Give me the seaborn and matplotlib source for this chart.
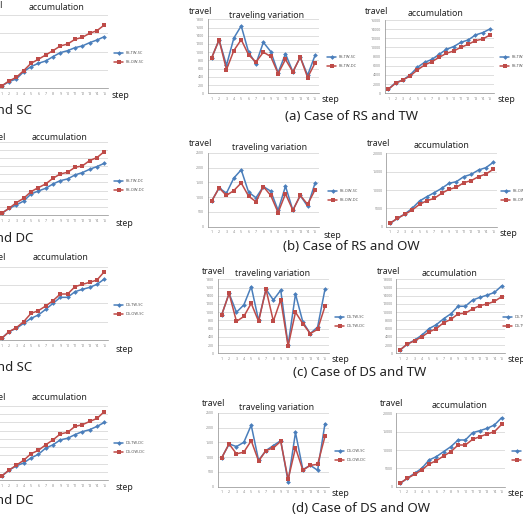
import numpy as np
import matplotlib
matplotlib.use("Agg")
import matplotlib.pyplot as plt
import seaborn as sns

W, H = 523, 520
BLUE = "#4A7EBB"
RED = "#BE4B48"

steps = list(range(1, 16))

# left column (cropped accumulation charts)
rs_tw_sc_acc = [640, 1820, 2550, 4550, 5910, 6820, 7450, 8640, 9730, 10270, 11090, 11550, 12450, 13180, 14090]
rs_ow_sc_acc = [640, 2000, 3000, 4820, 6820, 7910, 9090, 10270, 11550, 12090, 13360, 13910, 15000, 15730, 17270]
rs_tw_dc_acc = [410, 1640, 2460, 3440, 5160, 5900, 6560, 7620, 8440, 8850, 9840, 10410, 11230, 11890, 12700]
rs_ow_dc_acc = [410, 1640, 3030, 4100, 5740, 6720, 7620, 9020, 10080, 10490, 11720, 12050, 13360, 14100, 15570]
ds_tw_sc_acc = [450, 2270, 3180, 4550, 5910, 6820, 8360, 10000, 11640, 11640, 13180, 13820, 14360, 15180, 16640]
ds_ow_sc_acc = [450, 2270, 3360, 5000, 7270, 8000, 9270, 10730, 12550, 12550, 14550, 15180, 15730, 16360, 18640]
ds_tw_dc_acc = [960, 2400, 3440, 4160, 5360, 6240, 7760, 8560, 9760, 10160, 11040, 11760, 12240, 13040, 14000]
ds_ow_dc_acc = [960, 2400, 3600, 4800, 6400, 7200, 8560, 9760, 11200, 11600, 13040, 13440, 14240, 14960, 16640]

# (a) RS and TW
rs_tw_sc_var = [864, 1300, 680, 1344, 1640, 1000, 720, 1240, 1016, 500, 960, 520, 880, 440, 920]
rs_tw_dc_var = [864, 1300, 576, 1040, 1304, 936, 760, 1000, 896, 480, 824, 520, 880, 384, 736]
rs_tw_sc_sum = [870, 2330, 2900, 4000, 5670, 6760, 7400, 8500, 9600, 10200, 11130, 11640, 12730, 13240, 14040]
rs_tw_dc_sum = [870, 2180, 2900, 3780, 5090, 6180, 6900, 7850, 8730, 9240, 10040, 10690, 11490, 11850, 12730]
# (b) RS and OW
rs_ow_sc_var = [867, 1311, 1133, 1644, 1922, 1167, 978, 1356, 1200, 556, 1367, 556, 1056, 689, 1467]
rs_ow_dc_var = [867, 1311, 1056, 1222, 1478, 1033, 844, 1356, 1056, 478, 1111, 556, 1056, 756, 1244]
rs_ow_sc_sum = [910, 2270, 3450, 5000, 7000, 8180, 9270, 10450, 11820, 12270, 13640, 14270, 15450, 16090, 17550]
rs_ow_dc_sum = [910, 2270, 3360, 4550, 6090, 7090, 7730, 9090, 10180, 10730, 12000, 12550, 13640, 14360, 15640]
# (c) DS and TW
ds_tw_sc_var = [936, 1456, 1000, 1176, 1624, 800, 1560, 1296, 1536, 200, 1440, 760, 480, 640, 1560]
ds_tw_dc_var = [936, 1456, 776, 896, 1216, 776, 1560, 784, 1304, 176, 1000, 720, 480, 584, 1144]
ds_tw_sc_sum = [800, 2240, 3200, 4400, 6000, 6960, 8400, 9600, 11440, 11440, 12960, 13600, 14160, 14800, 16400]
ds_tw_dc_sum = [800, 2240, 3040, 4000, 5200, 6000, 7440, 8240, 9600, 9760, 10800, 11600, 12000, 12640, 13760]
# (d) DS and OW
ds_ow_sc_var = [978, 1444, 1356, 1500, 2078, 889, 1222, 1389, 1556, 167, 1833, 578, 722, 556, 2133]
ds_ow_dc_var = [978, 1444, 1111, 1167, 1556, 867, 1222, 1311, 1533, 244, 1311, 556, 722, 756, 1700]
ds_ow_sc_sum = [910, 2270, 3640, 5000, 7270, 8180, 9550, 10910, 12730, 12730, 14730, 15270, 15910, 16820, 18820]
ds_ow_dc_sum = [910, 2270, 3360, 4550, 6180, 7090, 8360, 9550, 11360, 11360, 12910, 13640, 14360, 15000, 17000]

sns.set_style("white")
plt.rcParams["font.family"] = ["Noto Sans", "DejaVu Sans"]

fig = plt.figure(figsize=(W / 100, H / 100), dpi=100)


def ftxt(x, y, s, size, ha="left"):
    fig.text(x / W, 1 - y / H, s, ha=ha, va="center", fontsize=size, color="#222222")


def panel(p1, p15, y0, ytop, ymax, ystep, blue, red, names, leg_xy, title, tx, ty,
          travel_xy, step_xy, ylabels=True):
    dx = (p15 - p1) / 14
    left, right = p1 - dx / 2, p15 + dx / 2
    ax = fig.add_axes([left / W, 1 - y0 / H, (right - left) / W, (y0 - ytop) / H])
    sns.lineplot(x=steps, y=blue, ax=ax, color=BLUE, marker="D", markersize=2.4,
                 markeredgewidth=0, linewidth=1.1, label=names[0])
    sns.lineplot(x=steps, y=red, ax=ax, color=RED, marker="s", markersize=2.6,
                 markeredgewidth=0, linewidth=1.1, label=names[1])
    ax.set_xlim(0.5, 15.5)
    ax.set_ylim(0, ymax)
    ax.set_xticks(steps)
    ax.set_xticklabels([str(s) for s in steps])
    ax.set_yticks(np.arange(0, ymax + 1, ystep))
    ax.set_yticklabels([str(int(v)) for v in np.arange(0, ymax + 1, ystep)])
    ax.yaxis.grid(True, color="#D9D9D9", linewidth=0.6)
    ax.set_axisbelow(True)
    for sp in ["top", "right"]:
        ax.spines[sp].set_visible(False)
    for sp in ["left", "bottom"]:
        ax.spines[sp].set_color("#8C8C8C")
        ax.spines[sp].set_linewidth(0.5)
    ax.tick_params(axis="both", labelsize=2.6, length=1.2, width=0.4, colors="#8C8C8C", pad=1.5)
    if not ylabels:
        ax.tick_params(axis="y", labelleft=False)
    ax.set_xlabel("")
    ax.set_ylabel("")
    ax.legend(loc="center left", bbox_to_anchor=(leg_xy[0] / W, 1 - leg_xy[1] / H),
              bbox_transform=fig.transFigure, frameon=False, fontsize=2.8,
              handlelength=2.4, handletextpad=0.5, labelspacing=1.3,
              borderpad=0, borderaxespad=0, labelcolor="#555555")
    ftxt(tx, ty, title, 6.3, ha="center")
    ftxt(travel_xy[0], travel_xy[1], "travel", 6.3)
    ftxt(step_xy[0], step_xy[1], "step", 6.3)
    return ax


# left column, mostly outside the canvas
panel(1.7, 104.3, 88.3, 15, 20000, 5000, rs_tw_sc_acc, rs_ow_sc_acc, ["RS-TW-SC", "RS-OW-SC"],
      (114, 57.5), "accumulation", 57, 8, (-20, 6), (112, 96), ylabels=False)
panel(1.7, 104.3, 215, 141.7, 18000, 2000, rs_tw_dc_acc, rs_ow_dc_acc, ["RS-TW-DC", "RS-OW-DC"],
      (114, 185.5), "accumulation", 60, 137, (-17, 137), (115, 223), ylabels=False)
panel(1.7, 104.3, 340, 266.7, 20000, 5000, ds_tw_sc_acc, ds_ow_sc_acc, ["DS-TW-SC", "DS-OW-SC"],
      (114, 309.5), "accumulation", 61, 258, (-17, 258), (115, 349), ylabels=False)
panel(1.7, 104.3, 480, 406, 18000, 2000, ds_tw_dc_acc, ds_ow_dc_acc, ["DS-TW-DC", "DS-OW-DC"],
      (114, 447.5), "accumulation", 60, 397, (-17, 397), (115, 488), ylabels=False)

# (a)
panel(211.7, 315, 93.3, 19.3, 1800, 200, rs_tw_sc_var, rs_tw_dc_var, ["RS-TW-SC", "RS-TW-DC"],
      (327, 61.5), "traveling variation", 267, 15, (189, 12), (322, 100))
panel(388.3, 490, 93.3, 20, 16000, 2000, rs_tw_sc_sum, rs_tw_dc_sum, ["RS-TW-SC", "RS-TW-DC"],
      (500, 61.5), "accumulation", 436, 14, (365, 12), (498, 100))
# (b)
panel(211.7, 315, 226.7, 152.7, 2500, 500, rs_ow_sc_var, rs_ow_dc_var, ["RS-OW-SC", "RS-OW-DC"],
      (328, 195.5), "traveling variation", 270, 147, (189, 144), (323, 235))
panel(390, 493.3, 226.7, 153.3, 20000, 5000, rs_ow_sc_sum, rs_ow_dc_sum, ["RS-OW-SC", "RS-OW-DC"],
      (501, 195.5), "accumulation", 442, 146, (367, 144), (500, 234))
# (c)
panel(221.7, 325, 353.3, 279.3, 1800, 200, ds_tw_sc_var, ds_tw_dc_var, ["DS-TW-SC", "DS-TW-DC"],
      (335, 321.5), "traveling variation", 273, 274, (202, 271), (332, 359))
panel(400, 501.7, 353.3, 279.3, 18000, 2000, ds_tw_sc_sum, ds_tw_dc_sum, ["DS-TW-SC", "DS-TW-DC"],
      (503, 321.5), "accumulation", 450, 273, (377, 271), (508, 360))
# (d)
panel(221.7, 325, 486.7, 412.7, 2500, 500, ds_ow_sc_var, ds_ow_dc_var, ["DS-OW-SC", "DS-OW-DC"],
      (335, 455.5), "traveling variation", 277, 407, (202, 403), (332, 494))
panel(400, 501.7, 486.7, 413.3, 20000, 5000, ds_ow_sc_sum, ds_ow_dc_sum, ["DS-OW-SC", "DS-OW-DC"],
      (512, 455.5), "accumulation", 460, 406, (380, 404), (508, 494))

# captions
ftxt(32, 110, "(e) Case of RS and SC", 9.5, ha="right")
ftxt(33, 239, "(f) Case of RS and DC", 9.5, ha="right")
ftxt(32, 367, "(g) Case of DS and SC", 9.5, ha="right")
ftxt(33, 500, "(h) Case of DS and DC", 9.5, ha="right")
ftxt(285, 116, "(a) Case of RS and TW", 9.5)
ftxt(283, 247, "(b) Case of RS and OW", 9.5)
ftxt(293, 373, "(c) Case of DS and TW", 9.5)
ftxt(292, 508, "(d) Case of DS and OW", 9.5)

fig.savefig("out.png", dpi=100)
